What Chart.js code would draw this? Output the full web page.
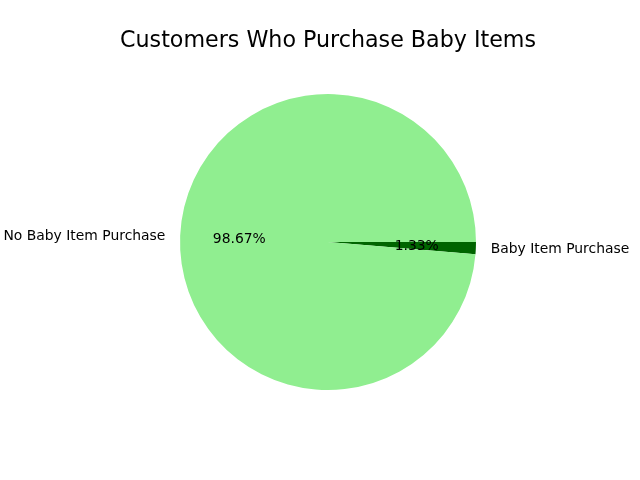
<!DOCTYPE html>
<html>
<head>
<meta charset="utf-8">
<script src="https://cdn.jsdelivr.net/npm/chart.js@4"></script>
<style>
html,body{margin:0;padding:0;background:#fff;}
#wrap{width:640px;height:480px;}
</style>
</head>
<body>
<div id="wrap"><canvas id="c" width="640" height="480"></canvas></div>
<script>
const categories = ["Baby Item Purchase", "No Baby Item Purchase"];
const values = [1.33, 98.67];
const percentLabels = ["1.33%", "98.67%"];
const colors = ["#006400", "#90EE90"];

const pieLabels = {
  id: 'pieLabels',
  afterDatasetsDraw(chart) {
    const ctx = chart.ctx;
    const meta = chart.getDatasetMeta(0);
    ctx.save();
    ctx.font = '13.9px "DejaVu Sans"';
    ctx.fillStyle = '#000';
    ctx.textBaseline = 'middle';
    meta.data.forEach((arc, i) => {
      const mid = (arc.startAngle + arc.endAngle) / 2;
      const r = arc.outerRadius;
      const cx = arc.x, cy = arc.y + 1;
      ctx.textAlign = 'center';
      ctx.fillText(percentLabels[i], cx + Math.cos(mid) * r * 0.6, cy + Math.sin(mid) * r * 0.6);
      const lx = cx + Math.cos(mid) * r * 1.1;
      const ly = cy + Math.sin(mid) * r * 1.1;
      ctx.textAlign = Math.cos(mid) < 0 ? 'right' : 'left';
      ctx.fillText(categories[i], lx, ly);
    });
    ctx.restore();
  }
};

new Chart(document.getElementById('c'), {
  type: 'pie',
  data: {
    labels: categories,
    datasets: [{
      data: values,
      backgroundColor: colors,
      borderWidth: 0
    }]
  },
  options: {
    responsive: false,
    animation: false,
    rotation: 90,
    layout: { padding: { left: 16, right: 0, top: 0, bottom: 90 } },
    plugins: {
      legend: { display: false },
      tooltip: { enabled: false },
      title: {
        display: true,
        text: 'Customers Who Purchase Baby Items',
        color: '#000',
        font: { family: '"DejaVu Sans"', size: 22.2, weight: 'normal', lineHeight: 1.2 },
        padding: { top: 28, bottom: 39.4 }
      }
    }
  },
  plugins: [pieLabels]
});
</script>
</body>
</html>
